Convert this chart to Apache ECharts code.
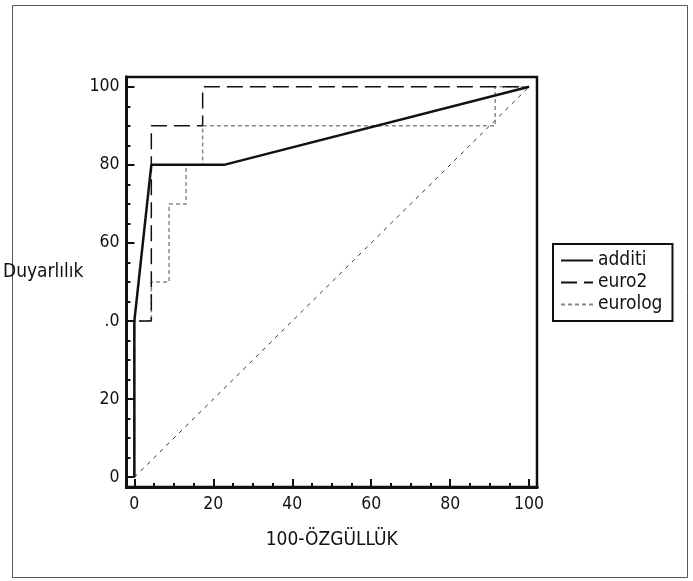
<!DOCTYPE html>
<html>
<head>
<meta charset="utf-8">
<script src="https://cdn.jsdelivr.net/npm/echarts@6.0.0/dist/echarts.min.js"></script>
<style>
  html, body { margin: 0; padding: 0; background: #fff; }
  #chart { width: 693px; height: 581px; }
</style>
</head>
<body>
<div id="chart"></div>
<script>
// ROC curves: x = 100-specificity, y = sensitivity
const additiX = [0, 0, 4.3, 22.7, 100]
const additiY = [0, 40, 80, 80, 100]
const euro2X = [0, 0, 4.3, 4.3, 17.3, 17.3, 100]
const euro2Y = [0, 40, 40, 90, 90, 100, 100]
const eurologX = [0, 0, 4.3, 4.3, 8.8, 8.8, 13.1, 13.1, 17.3, 17.3, 91.4, 91.4, 100]
const eurologY = [0, 40, 40, 50, 50, 70, 70, 80, 80, 90, 90, 100, 100]
const refX = [0, 100]
const refY = [0, 100]

const xTickValues = [0, 20, 40, 60, 80, 100]
const yTickValues = [0, 20, 40, 60, 80, 100]
const yTickLabels = ['0', '20', '.0', '60', '80', '100']
const minorTickValues = [0, 5, 10, 15, 20, 25, 30, 35, 40, 45, 50, 55, 60, 65, 70, 75, 80, 85, 90, 95, 100]

const FONT = "'Liberation Sans Narrow', 'DejaVu Sans Condensed', 'Roboto', sans-serif"

function pairs(xs, ys) {
  return xs.map(function(x, i) { return [x, ys[i]] })
}

const chart = echarts.init(document.getElementById('chart'))

const baseAxis = {
  type: 'value',
  axisLine: { show: true, onZero: false, lineStyle: { color: '#111', width: 3 } },
  splitLine: { show: false }
}

const option = {
  backgroundColor: '#fff',
  animation: false,
  textStyle: { fontFamily: FONT },
  grid: {
    left: 123, right: 156, top: 77, bottom: 94,
    show: true,
    borderColor: '#111',
    borderWidth: 2.5
  },
  graphic: [{
    type: 'rect',
    shape: { x: 12.5, y: 5.5, width: 675, height: 572 },
    style: { fill: 'none', stroke: '#555', lineWidth: 1 },
    z: -1
  }],
  legend: {
    orient: 'vertical',
    left: 553,
    top: 244,
    width: 122,
    borderColor: '#111',
    borderWidth: 2,
    padding: [7, 10, 7, 7],
    itemGap: 3,
    itemWidth: 32,
    itemHeight: 12,
    itemStyle: { opacity: 0 },
    textStyle: { fontFamily: FONT, fontSize: 19, color: '#111' },
    data: ['additi', 'euro2', 'eurolog']
  },
  xAxis: [
    Object.assign({}, baseAxis, {
      min: -2,
      max: 102,
      name: '100-ÖZGÜLLÜK',
      nameLocation: 'middle',
      nameGap: 44,
      nameTextStyle: { fontFamily: FONT, fontSize: 19, color: '#111', verticalAlign: 'top' },
      axisTick: { show: true, inside: true, length: 8, lineStyle: { color: '#111', width: 2 }, customValues: xTickValues },
      axisLabel: { show: true, margin: 8, fontFamily: FONT, fontSize: 17.5, color: '#111', customValues: xTickValues }
    }),
    Object.assign({}, baseAxis, {
      min: -2,
      max: 102,
      position: 'bottom',
      axisTick: { show: true, inside: true, length: 4, lineStyle: { color: '#111', width: 2 }, customValues: minorTickValues },
      axisLabel: { show: false }
    })
  ],
  yAxis: [
    Object.assign({}, baseAxis, {
      min: -2.5,
      max: 102.5,
      name: 'Duyarlılık',
      nameLocation: 'middle',
      nameRotate: 0,
      nameGap: 25,
      nameTextStyle: { fontFamily: FONT, fontSize: 19, color: '#111', verticalAlign: 'bottom' },
      axisTick: { show: true, inside: true, length: 8, lineStyle: { color: '#111', width: 2 }, customValues: yTickValues },
      axisLabel: {
        show: true, margin: 7, fontFamily: FONT, fontSize: 17.5, color: '#111',
        customValues: yTickValues,
        formatter: function(v) { return yTickLabels[yTickValues.indexOf(v)] }
      }
    }),
    Object.assign({}, baseAxis, {
      min: -2.5,
      max: 102.5,
      position: 'left',
      axisTick: { show: true, inside: true, length: 4, lineStyle: { color: '#111', width: 2 }, customValues: minorTickValues },
      axisLabel: { show: false }
    })
  ],
  series: [
    {
      name: 'ref',
      type: 'line',
      data: pairs(refX, refY),
      symbol: 'none',
      lineStyle: { color: '#333', width: 1, type: [4, 5] },
      z: 1
    },
    {
      name: 'eurolog',
      type: 'line',
      data: pairs(eurologX, eurologY),
      symbol: 'none',
      lineStyle: { color: '#888', width: 1.5, type: [4, 3] },
      itemStyle: { color: '#888' },
      z: 2
    },
    {
      name: 'euro2',
      type: 'line',
      data: pairs(euro2X, euro2Y),
      symbol: 'none',
      lineStyle: { color: '#111', width: 1.5, type: [16, 7] },
      itemStyle: { color: '#111' },
      z: 3
    },
    {
      name: 'additi',
      type: 'line',
      data: pairs(additiX, additiY),
      symbol: 'none',
      lineStyle: { color: '#111', width: 2.5, type: 'solid' },
      itemStyle: { color: '#111' },
      z: 4
    }
  ]
}

chart.setOption(option)
</script>
</body>
</html>
